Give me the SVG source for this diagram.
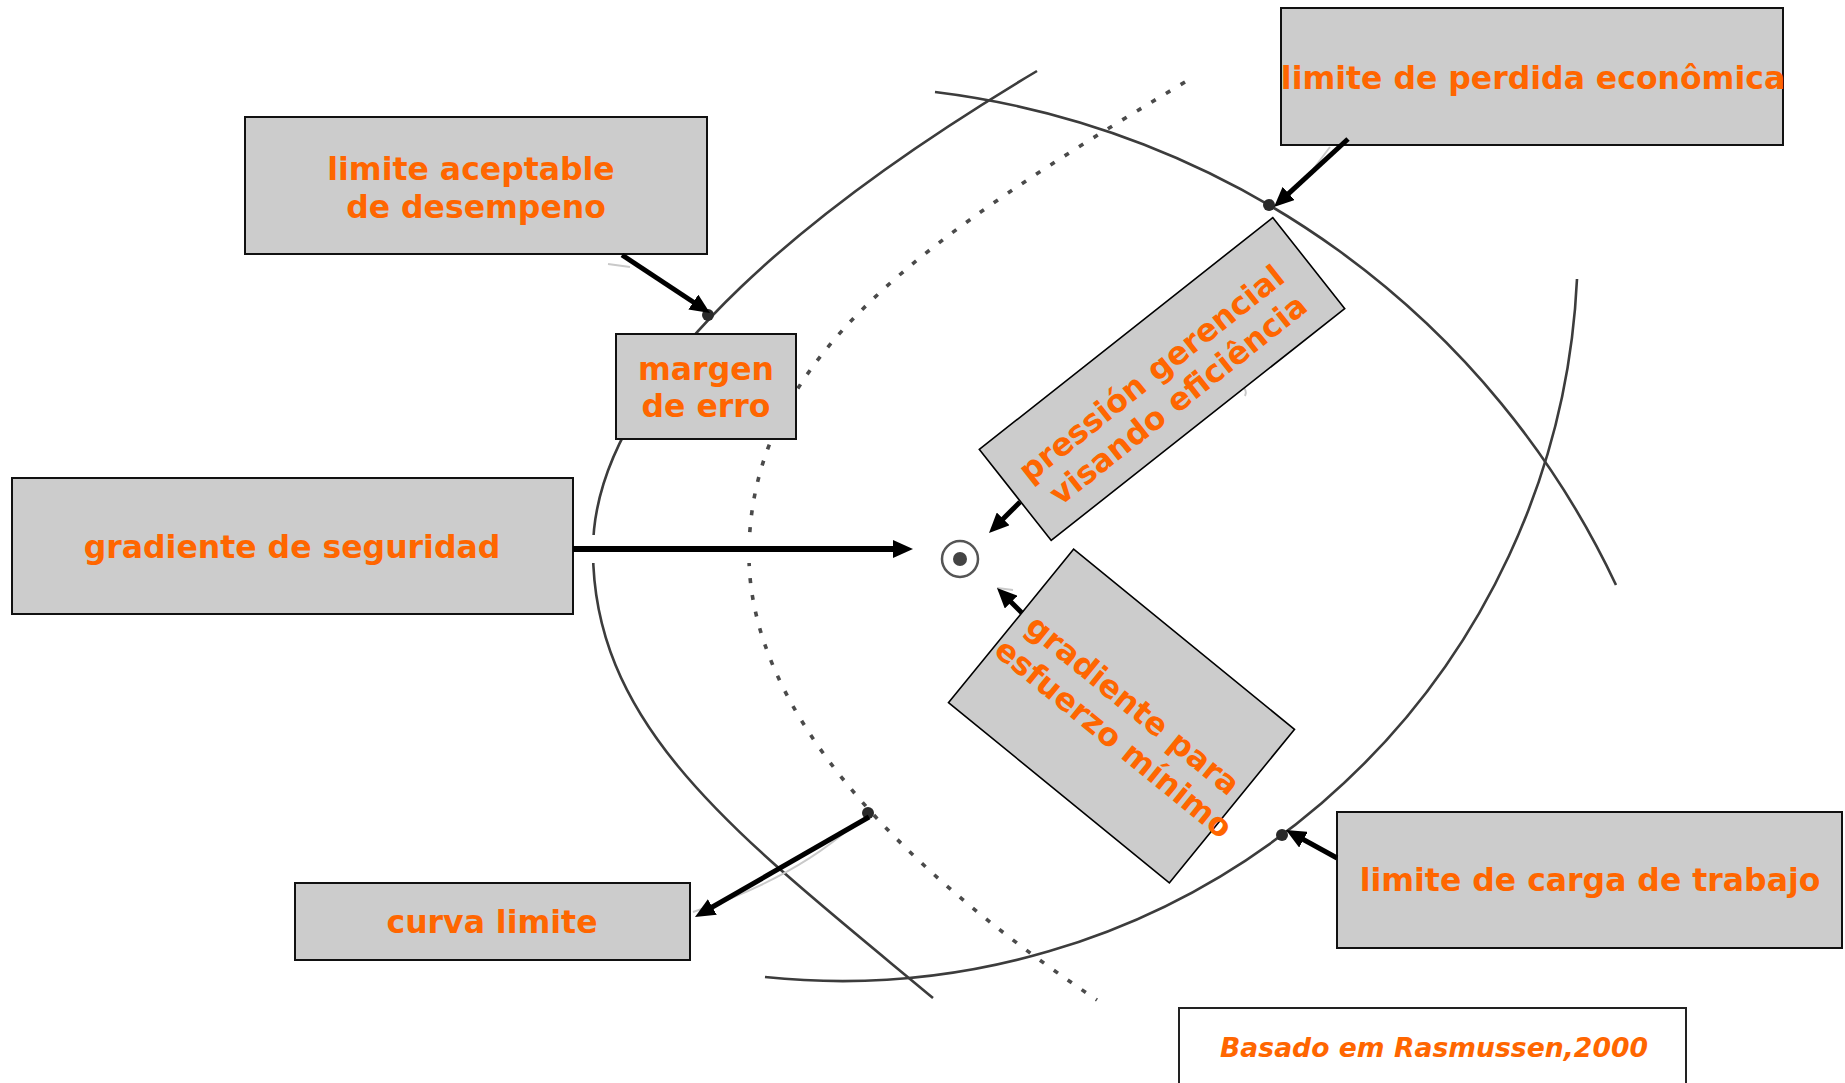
<svg xmlns="http://www.w3.org/2000/svg" width="1845" height="1083" viewBox="0 0 1845 1083">
  <style>
    .box { fill: #cccccc; stroke: #111111; stroke-width: 2; }
    .rbox { fill: #cccccc; stroke: #000000; stroke-width: 1.6; }
    .note { fill: #ffffff; stroke: #222222; stroke-width: 2; }
    .lbl { font-family: "DejaVu Sans", Verdana, sans-serif; font-weight: bold; font-size: 31.5px; fill: #ff6600; text-anchor: middle; }
    .cite { font-family: "DejaVu Sans", Verdana, sans-serif; font-weight: bold; font-style: italic; font-size: 26px; fill: #ff6600; text-anchor: middle; }
    .curve { fill: none; stroke: #3c3c3c; stroke-width: 2.6; }
    .dotted { fill: none; stroke: #4a4a4a; stroke-width: 3.6; stroke-dasharray: 5 12; }
    .faint { fill: none; stroke: #c9c9c9; stroke-width: 2; }
    .arrow { fill: none; stroke: #000000; stroke-width: 5; marker-end: url(#head); }
    .dot { fill: #2a2a2a; }
  </style>
  <defs>
    <marker id="head" markerUnits="userSpaceOnUse" markerWidth="20" markerHeight="18" viewBox="0 0 20 18" refX="8" refY="9" orient="auto">
      <path d="M0,0 L20,9 L0,18 z" fill="#000000"/>
    </marker>
  </defs>

  <rect width="1845" height="1083" fill="#ffffff"/>

  <!-- boundary curves of the operating space -->
  <g id="curves">
    <path class="curve" d="M1037,71 C839,189 593,370 593,550 C593,730 741,838 933,998"/>
    <path class="dotted" d="M1185,82 C928,236 749,355 749,555 C749,705 889,861 1097,1000"/>
    <path class="curve" d="M935,92 A870,870 0 0,1 1616,585"/>
    <path class="curve" d="M765,977 A736,736 0 0,0 1577,279"/>
    <!-- faint leftover strokes -->
    <path class="faint" d="M608,264 L630,267"/>
    <path class="faint" d="M1308,176 L1330,147"/>
    <path class="faint" d="M693,912 Q790,880 850,828"/>
    <path class="faint" d="M1241,386 Q1248,390 1245,396"/>
    <path class="faint" d="M997,588 L1013,590"/>
    <!-- clear space around the horizontal gradient arrow -->
    <line x1="580" y1="549" x2="905" y2="549" stroke="#ffffff" stroke-width="28"/>
    <!-- operating point -->
    <circle cx="960" cy="559" r="18" fill="none" stroke="#555555" stroke-width="2.5"/>
    <circle cx="960" cy="559" r="7" fill="#444444"/>
    <!-- markers on the boundaries -->
    <circle class="dot" cx="708" cy="315" r="6"/>
    <circle class="dot" cx="1269" cy="205" r="6"/>
    <circle class="dot" cx="868" cy="813" r="6"/>
    <circle class="dot" cx="1282" cy="835" r="6"/>
  </g>

  <g id="node-aceptable">
    <rect class="box" x="245" y="117" width="462" height="137"/>
    <text class="lbl" x="471" y="180">limite aceptable</text>
    <text class="lbl" x="476" y="218">de desempeno</text>
  </g>

  <g id="node-perdida">
    <rect class="box" x="1281" y="8" width="502" height="137"/>
    <text class="lbl" x="1533" y="89">limite de perdida econômica</text>
  </g>

  <g id="node-margen">
    <rect class="box" x="616" y="334" width="180" height="105"/>
    <text class="lbl" x="706" y="380">margen</text>
    <text class="lbl" x="706" y="417">de erro</text>
  </g>

  <g id="node-seguridad">
    <rect class="box" x="12" y="478" width="561" height="136"/>
    <text class="lbl" x="292" y="558">gradiente de seguridad</text>
  </g>

  <g id="node-presion" transform="translate(1162,379) rotate(-38.3)">
    <rect class="rbox" x="-187" y="-58" width="374" height="116"/>
    <text class="lbl" x="-5" y="0">pressión gerencial</text>
    <text class="lbl" x="0" y="37">visando eficiência</text>
  </g>

  <g id="node-esfuerzo" transform="translate(1121.5,716) rotate(39.2)">
    <rect class="rbox" x="-142.5" y="-99" width="285" height="198"/>
    <text class="lbl" x="2" y="-5">gradiente para</text>
    <text class="lbl" x="8" y="33">esfuerzo mínimo</text>
  </g>

  <g id="node-curva">
    <rect class="box" x="295" y="883" width="395" height="77"/>
    <text class="lbl" x="492" y="933">curva limite</text>
  </g>

  <g id="node-carga">
    <rect class="box" x="1337" y="812" width="505" height="136"/>
    <text class="lbl" x="1590" y="891">limite de carga de trabajo</text>
  </g>

  <g id="node-fuente">
    <rect class="note" x="1179" y="1008" width="507" height="90"/>
    <text class="cite" x="1434" y="1057" textLength="428" lengthAdjust="spacingAndGlyphs">Basado em Rasmussen,2000</text>
  </g>

  <g id="connectors">
    <line class="arrow" x1="622" y1="255" x2="700" y2="306.5"/>
    <line class="arrow" x1="1348" y1="139" x2="1282.8" y2="198.9"/>
    <line class="arrow" x1="573" y1="549" x2="901" y2="549" style="stroke-width:6"/>
    <line class="arrow" x1="1020" y1="502" x2="997.5" y2="524.5"/>
    <line class="arrow" x1="1022" y1="613" x2="1005.5" y2="596.5"/>
    <line class="arrow" x1="869" y1="817" x2="705.4" y2="911"/>
    <line class="arrow" x1="1337" y1="858" x2="1296.5" y2="835.8"/>
  </g>
</svg>
